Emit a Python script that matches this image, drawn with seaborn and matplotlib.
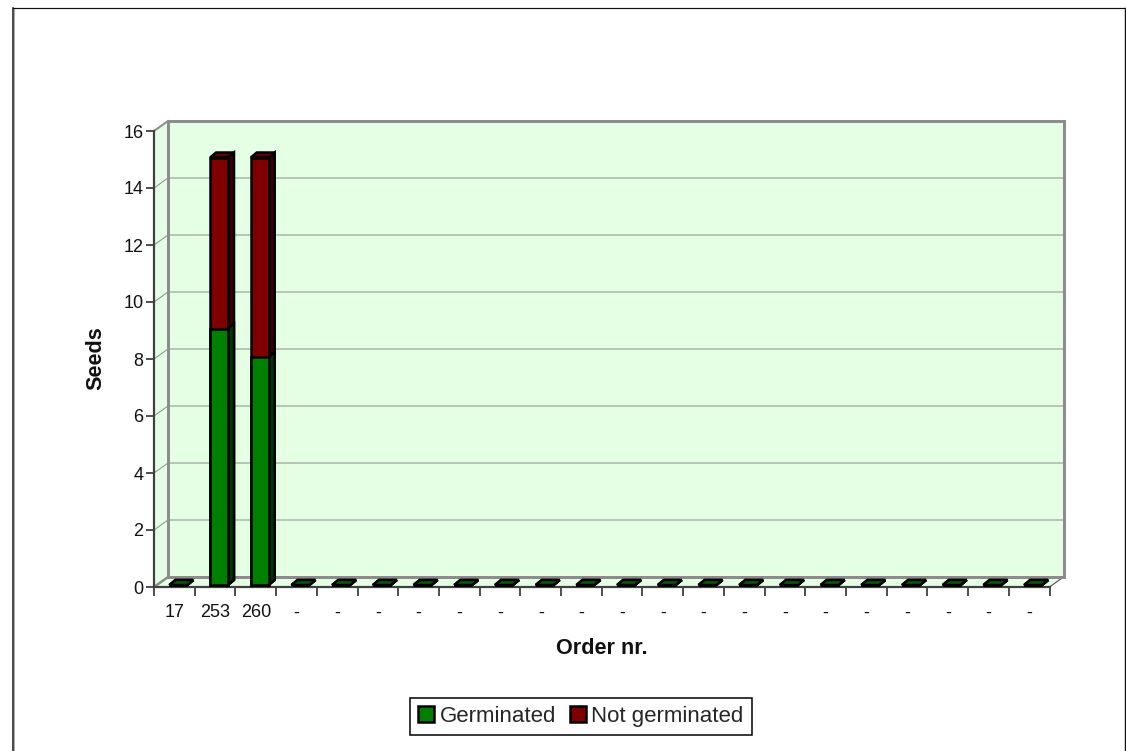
import numpy as np
import pandas as pd
import matplotlib
matplotlib.use("Agg")
import matplotlib.pyplot as plt
import seaborn as sns
from matplotlib.patches import Polygon
from matplotlib.lines import Line2D
from matplotlib.transforms import Affine2D, IdentityTransform

order_labels = ["17", "253", "260"] + ["-"] * 19
germinated = [0, 9, 8] + [0] * 19
not_germinated = [0, 6, 7] + [0] * 19
y_ticks = [0, 2, 4, 6, 8, 10, 12, 14, 16]

W, H = 1126, 751
WALL = "#E4FFE4"
GREY = "#8C8C8C"
DEPTH = (14, 10)          # plot-box depth in pixels
BAR_SHIFT = (4, 2)        # bar front face relative to the axis plane
BAR_DEPTH = (6, 5)        # bar depth in pixels

sns.set_theme(style="white")
plt.rcParams["font.family"] = ["Liberation Sans", "DejaVu Sans"]

fig = plt.figure(figsize=(W / 100, H / 100), dpi=100, facecolor="white")
L, R, T, B = 154, 1049.5, 131, 587
ax = fig.add_axes([L / W, 1 - B / H, (R - L) / W, (B - T) / H])
ax.patch.set_alpha(0)
ax.set_zorder(2)
ident = IdentityTransform()


def P(x, y):
    return (x, H - y)


def add_poly(pts, **kw):
    fig.add_artist(Polygon([P(*p) for p in pts], closed=True, transform=ident, **kw))


def add_line(xs, ys, color, lw, z=1):
    fig.add_artist(Line2D(xs, [H - v for v in ys], transform=ident, color=color,
                          lw=lw * 0.72, zorder=z, solid_capstyle="projecting"))


# outer chart frame, open at the bottom
add_line([12.5, 12.5], [8, H + 5], "#202020", 1.6)
add_line([14, 14], [9, H + 5], "#A8A8A8", 1)
add_line([12.5, 1125], [7.5, 7.5], "#101010", 1.2)
add_line([1125, 1125], [7.5, H + 5], "#101010", 1.4)

dx, dy = DEPTH
# walls and floor
add_poly([(L, T), (L + dx, T - dy), (L + dx, B - dy), (L, B)], fc=WALL, ec="none", zorder=0.5)
add_poly([(L + dx, T - dy), (R + dx, T - dy), (R + dx, B - dy), (L + dx, B - dy)],
         fc=WALL, ec="none", zorder=0.5)
add_poly([(L, B), (L + dx, B - dy), (R + dx, B - dy), (R, B)], fc=WALL, ec="none", zorder=0.5)

# gridlines on the back and side walls, derived from the y scale
ax.set_xlim(-0.5, len(order_labels) - 0.5)
ax.set_ylim(y_ticks[0], y_ticks[-1])
for v in y_ticks[1:-1]:
    yp = B - (B - T) * v / y_ticks[-1]
    add_line([L, L + dx, R + dx], [yp, yp - dy, yp - dy], "#8E8E8E", 1.0, 0.8)

# wall frame
add_line([L + dx, L + dx], [T - dy, B - dy], GREY, 3, 0.9)
add_line([L + dx, R + dx], [T - dy, T - dy], GREY, 3, 0.9)
add_line([R + dx, R + dx], [T - dy, B - dy], GREY, 3, 0.9)
add_line([L + dx, R + dx], [B - dy, B - dy], GREY, 3, 0.9)
add_line([L, L + dx], [T, T - dy], GREY, 2, 0.85)
add_line([L, L + dx], [B, B - dy], GREY, 2.5, 0.85)
add_line([R, R + dx], [B, B - dy], "#505050", 1.1, 0.85)

# bars: totals first, germinated on top
df = pd.DataFrame({
    "pos": np.arange(len(order_labels)),
    "germinated": germinated,
    "not_germinated": not_germinated,
})
df["total"] = df["germinated"] + df["not_germinated"]

sns.barplot(data=df, x="pos", y="total", color="#800000", saturation=1, width=0.44,
            edgecolor="black", linewidth=1.8, label="Not germinated", ax=ax, legend=False)
n_red = len(ax.patches)
sns.barplot(data=df, x="pos", y="germinated", color="#008000", saturation=1, width=0.44,
            edgecolor="black", linewidth=1.8, label="Germinated", ax=ax, legend=False)

shift = Affine2D().translate(BAR_SHIFT[0], BAR_SHIFT[1])
bdx, bdy = BAR_DEPTH
for i, patch in enumerate(ax.patches):
    is_red = i < n_red
    patch.set_transform(ax.transData + shift)
    patch.set_clip_on(False)
    patch.set_zorder(5 if is_red else 7)
    x0, y0, w, h = patch.get_x(), patch.get_y(), patch.get_width(), patch.get_height()
    (px0, py0), (px1, py1) = ax.transData.transform([(x0, y0), (x0 + w, y0 + h)])
    px0 += BAR_SHIFT[0]
    px1 += BAR_SHIFT[0]
    py0 += BAR_SHIFT[1]
    py1 += BAR_SHIFT[1]
    side = "#3A0000" if is_red else "#003A00"
    top = "#600000" if is_red else "#006000"
    z = 4.5 if is_red else 6.5
    art = Polygon([(px1, py0), (px1 + bdx, py0 + bdy), (px1 + bdx, py1 + bdy), (px1, py1)],
                  closed=True, transform=ident, fc=side, ec="black", lw=1.8, zorder=z)
    art.set_clip_on(False)
    ax.add_artist(art)
    if is_red or h == 0:
        art = Polygon([(px0, py1), (px0 + bdx, py1 + bdy), (px1 + bdx, py1 + bdy), (px1, py1)],
                      closed=True, transform=ident, fc=top, ec="black", lw=1.8, zorder=z + 3)
        art.set_clip_on(False)
        ax.add_artist(art)

# axes
n = len(order_labels)
ax.set_xticks(np.arange(n + 1) - 0.5)
ax.set_xticklabels([])
ax.set_xticks(np.arange(n), labels=order_labels, minor=True)
ax.set_yticks(y_ticks)
ax.set_yticklabels([str(v) for v in y_ticks], fontsize=13, color="#111111")
ax.tick_params(axis="x", which="major", length=6.5, width=1.2, color="#303030", bottom=True)
ax.tick_params(axis="x", which="minor", length=0, labelsize=13, pad=12.5, labelcolor="#111111")
ax.tick_params(axis="y", which="major", length=6, width=1.2, color="#303030", left=True, pad=1.5)
for s in ("top", "right"):
    ax.spines[s].set_visible(False)
for s in ("left", "bottom"):
    ax.spines[s].set_color("#404040")
    ax.spines[s].set_linewidth(1.6)
ax.set_xlabel("")
ax.set_ylabel("")

fig.text(602 / W, 1 - 648.5 / H, "Order nr.", fontsize=15.6, fontweight="bold",
         ha="center", va="center", color="#111111")
fig.text(95.5 / W, 1 - 358 / H, "Seeds", fontsize=15.6, fontweight="bold", rotation=90,
         ha="center", va="center", color="#111111")

handles, labels = ax.get_legend_handles_labels()
pairs = sorted(zip(labels, handles), key=lambda t: t[0])
leg = fig.legend([p[1] for p in pairs], [p[0] for p in pairs], loc="center",
                 bbox_to_anchor=(581 / W, 1 - 716.5 / H), ncol=2, fontsize=16,
                 frameon=True, fancybox=False, framealpha=1, edgecolor="black",
                 handlelength=0.72, handleheight=0.72, handletextpad=0.25,
                 columnspacing=0.6, borderpad=0.36, borderaxespad=0)
leg.get_frame().set_linewidth(1.1)

fig.savefig("out.png", dpi=100, facecolor="white")
